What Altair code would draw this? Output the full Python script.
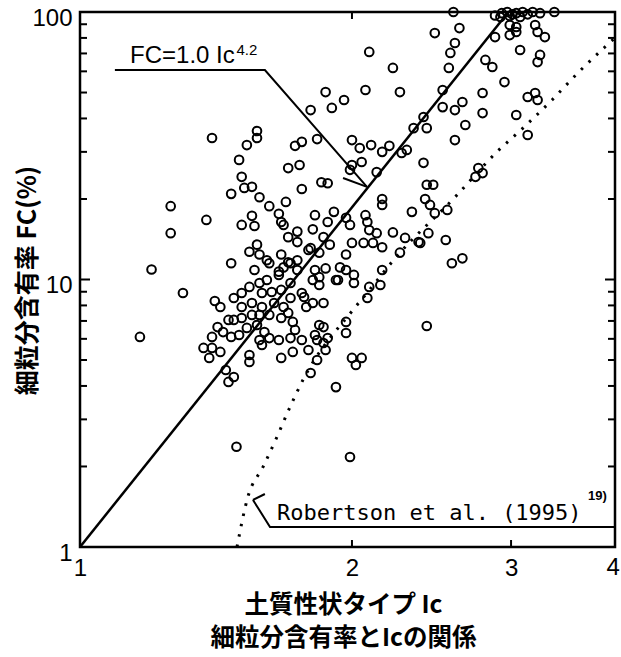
import altair as alt
import pandas as pd

# ---------------- data ----------------
ic_values = [
    2.59, 2.88, 2.93, 2.97, 3.01, 3.04, 3.09, 3.13, 3.17, 3.23, 3.35, 2.92, 3.07, 2.99,
    2.99, 3.04, 2.88, 2.99, 3.04, 3.19, 3.21, 3.27, 3.07, 3.23, 3.21, 2.81, 2.86, 2.95,
    2.79, 2.63, 2.47, 2.60, 2.57, 2.56, 2.09, 2.22, 1.87, 2.07, 2.26, 2.52, 3.13, 3.19,
    3.21, 1.80, 1.90, 1.96, 2.60, 2.65, 2.52,
    2.79, 3.04, 2.67, 2.60, 3.13, 2.40, 2.42, 2.34, 1.57, 1.57, 1.53, 1.40, 1.73, 1.76,
    1.83, 2.00, 2.04, 2.10, 2.16, 2.20, 2.27, 2.30, 1.50, 1.70, 1.75, 2.00, 2.05, 1.99,
    2.13, 2.40, 2.76, 2.79, 2.74, 1.51, 1.52, 1.55, 1.58, 1.47, 1.76, 1.85, 1.88, 2.42,
    2.46,
    2.16, 2.16, 2.41, 2.44, 2.47, 2.55, 2.33, 1.91, 1.97, 1.99, 2.07, 2.08, 2.09, 2.13,
    2.22, 2.29, 2.37, 2.38, 2.43, 2.54, 1.62, 1.69, 1.26, 1.38, 1.26, 1.55, 1.51, 1.56,
    1.66, 1.67, 1.68, 1.82, 1.81, 1.70, 1.74, 1.74, 1.57, 1.54, 1.58, 1.67, 1.79, 1.86,
    1.89, 1.80, 1.84, 1.88, 2.00, 2.06, 2.11, 2.16, 1.97, 2.26,
    2.58, 2.65, 2.16, 2.09, 2.15, 2.08, 2.01, 2.01, 1.97, 1.93, 1.87, 1.82, 1.84, 1.94,
    1.61, 1.70, 1.74, 1.47, 1.20, 1.66, 1.30, 1.41, 1.48, 1.51, 1.54, 1.58, 1.61, 1.66,
    1.59, 1.63, 1.67, 1.71, 1.68, 1.71, 1.74, 1.62, 1.56, 1.76, 1.77, 1.81, 1.84, 1.92,
    1.43, 1.51, 1.55, 1.59, 1.64, 1.68, 1.71, 1.70, 1.67, 1.62, 1.58, 1.55, 1.51, 1.48,
    1.46, 1.42, 1.44, 1.40, 1.47, 1.50, 1.53, 1.57, 1.60, 1.58, 1.62, 1.66, 1.59, 1.72,
    1.73, 1.71, 1.76, 1.79, 1.72, 1.67, 1.83, 1.86, 1.88, 1.84, 1.82, 1.83, 1.80, 1.92,
    1.78, 1.81, 1.86, 1.37, 1.40, 1.43, 1.39, 1.54, 1.54, 1.45, 1.48, 1.46, 1.97, 1.97,
    1.86, 1.87, 2.00, 2.05, 2.02, 2.42, 1.165, 1.49, 1.99,
]
fc_values = [
    100, 97, 99, 100, 98, 99, 100, 98, 100, 99, 100, 95.8, 95.8, 96.6,
    89.4, 87.9, 80.6, 82.0, 84.2, 89.4, 84.2, 80.6, 72.1, 69.1, 65.0, 66.2, 62.3, 54.7,
    49.8, 87.1, 83.4, 76.6, 70.3, 61.8, 70.9, 61.8, 50.2, 51.1, 50.2, 51.1, 48.1, 49.8,
    46.9, 43.0, 43.8, 46.9, 43.0, 46.1, 44.1,
    41.9, 41.2, 37.8, 33.2, 34.7, 40.5, 36.8, 36.8, 35.9, 33.8, 31.8, 33.8, 31.6, 32.7,
    33.5, 33.2, 31.0, 31.8, 30.0, 31.6, 29.7, 30.5, 28.0, 26.1, 26.8, 26.8, 27.5, 25.7,
    25.2, 27.3, 26.1, 25.0, 24.2, 24.2, 22.0, 22.2, 20.3, 20.9, 21.8, 23.1, 22.9, 22.6,
    22.6,
    20.0, 19.0, 20.0, 19.0, 17.7, 18.2, 17.9, 17.9, 17.0, 16.0, 17.4, 16.4, 15.3, 14.9,
    15.0, 14.3, 13.8, 13.7, 14.9, 14.05, 18.8, 19.5, 18.8, 16.7, 14.9, 17.3, 16.0, 15.85,
    17.6, 16.4, 16.0, 17.4, 15.4, 14.4, 15.1, 13.8, 13.5, 12.7, 12.4, 12.4, 12.9, 14.4,
    13.5, 13.1, 12.6, 16.4, 13.7, 13.7, 13.7, 13.2, 12.4, 12.6,
    11.5, 12.0, 10.85, 9.38, 9.54, 8.53, 10.4, 9.70, 10.85, 9.96, 11.0, 10.85, 10.2, 11.1,
    11.8, 11.6, 11.8, 11.5, 10.9, 10.7, 8.90, 8.31, 8.53, 8.90, 9.38, 9.70, 9.96, 10.4,
    8.90, 8.98, 9.14, 9.70, 11.1, 11.5, 10.85, 11.5, 10.85, 8.90, 8.60, 9.96, 9.54, 9.96,
    7.89, 7.89, 8.17, 7.89, 8.17, 7.89, 8.53, 7.50, 7.18, 7.37, 7.37, 7.37, 7.18, 7.06,
    7.06, 6.64, 6.36, 6.10, 6.10, 6.20, 6.59, 6.76, 6.36, 5.94, 6.04, 5.94, 5.69, 6.94,
    6.48, 6.04, 5.94, 5.45, 5.36, 5.09, 5.94, 5.79, 6.04, 6.76, 6.20, 5.00, 4.47, 3.96,
    7.89, 8.17, 8.17, 5.55, 5.55, 5.36, 5.09, 5.22, 4.92, 4.59, 4.32, 4.14, 6.94, 6.31,
    6.64, 5.45, 5.09, 5.09, 4.79, 6.70, 6.10, 2.37, 2.17,
]

# FC = 1.0 Ic^4.2 (straight line on log-log axes)
fit_ic = [1.0, 2.98]
fit_fc = [1.0, 100.0]

# Robertson et al. (1995) dotted curve
rob_ic = [1.492, 1.534, 1.594, 1.652, 1.708, 1.765, 2.005, 2.078, 2.232, 2.600,
          2.894, 3.092, 3.330, 3.557, 3.811, 3.909]
rob_fc = [1.0, 1.54, 1.99, 2.58, 3.34, 4.21, 7.69, 8.90, 12.0, 20.3,
          30.0, 36.8, 46.9, 59.2, 74.0, 80.0]

# annotation leader lines (data coordinates)
lead_group = ["a", "a", "a", "b", "b", "c", "c", "c", "d", "d"]
lead_ic = [1.093, 1.602, 2.078, 1.955, 2.078, 1.554, 1.623, 3.91, 1.602, 1.554]
lead_fc = [60.7, 60.7, 22.2, 23.96, 22.2, 1.50, 1.188, 1.188, 1.578, 1.50]

y_minor = [2, 3, 4, 5, 6, 7, 8, 9, 20, 30, 40, 50, 60, 70, 80, 90]
y_major = [10]
x_ticks = [2, 3]
x_labels = [1, 2, 3]
x_edge_label = 4
y_labels = [1, 10, 100]

# ---------------- chart ----------------
W, H = 535, 535
XMAX = 3.91
LATIN = "Liberation Sans"
CJK = "Noto Sans CJK JP"

xs = alt.Scale(type="log", domain=[1, XMAX], nice=False)
ys = alt.Scale(type="log", domain=[1, 100], nice=False)

AX = alt.Axis(
    values=x_labels, format="d", ticks=False, domain=False, grid=False,
    labelFont=LATIN, labelFontSize=24, labelColor="black", labelPadding=9,
    labelFlush=False, labelOverlap=False,
    title=["土質性状タイプ Ic", "細粒分含有率とIcの関係"],
    titleFont=CJK, titleFontSize=24.5, titleFontWeight="bold", titleColor="black",
    titleX=263, titleY=46, titleAlign="center", titleBaseline="top",
    titleLineHeight=33)
AY = alt.Axis(
    values=y_labels, format="d", ticks=False, domain=False, grid=False,
    labelFont=LATIN, labelFontSize=24, labelColor="black", labelPadding=8,
    labelOverlap=False, labelOffset=6,
    title="細粒分含有率 FC(%)", titleFont=CJK, titleFontSize=25,
    titleFontWeight="bold", titleColor="black", titleAngle=-90,
    titleX=-53, titleY=268, titleAlign="center", titleBaseline="middle")


def X(field):
    return alt.X(field, scale=xs, axis=AX)


def Y(field):
    return alt.Y(field, scale=ys, axis=AY)


pts = pd.DataFrame({"ic": ic_values, "fc": fc_values})
points = alt.Chart(pts).mark_point(
    shape="circle", filled=False, stroke="black", strokeWidth=2, size=75, opacity=1
).encode(x=X("ic:Q"), y=Y("fc:Q"))

fit = alt.Chart(pd.DataFrame({"ic": fit_ic, "fc": fit_fc})).mark_line(
    color="black", strokeWidth=2.5, clip=True
).encode(x=X("ic:Q"), y=Y("fc:Q"))

rob = alt.Chart(pd.DataFrame({"ic": rob_ic, "fc": rob_fc})).mark_line(
    color="black", strokeWidth=3, strokeDash=[2.5, 8], interpolate="monotone", clip=True
).encode(x=X("ic:Q"), y=Y("fc:Q"))

lead_df = pd.DataFrame({"g": lead_group, "ic": lead_ic, "fc": lead_fc,
                        "i": list(range(len(lead_ic)))})
leaders = alt.Chart(lead_df).mark_line(color="black", strokeWidth=2, clip=True).encode(
    x=X("ic:Q"), y=Y("fc:Q"), detail="g:N", order="i:Q")


def label(txt, ic, fc, font, size, weight="normal", align="left",
          baseline="alphabetic", dx=0, dy=0):
    return alt.Chart(pd.DataFrame({"ic": [ic], "fc": [fc], "t": [txt]})).mark_text(
        align=align, baseline=baseline, font=font, fontSize=size,
        fontWeight=weight, color="black", dx=dx, dy=dy
    ).encode(x=X("ic:Q"), y=Y("fc:Q"), text="t:N")


t1 = label("FC=1.0 Ic", 1.136, 64.5, LATIN, 24)
t1s = label("4.2", 1.49, 69.1, LATIN, 15)
t2 = label("Robertson et al. (1995)", 1.652, 1.262, "DejaVu Sans Mono", 22)
t2s = label("19)", 3.65, 1.50, LATIN, 13, "bold")
t4 = label(str(x_edge_label), float(x_edge_label), 1.0, LATIN, 24,
           align="right", baseline="top", dx=-4, dy=9)


def yticks(vals, x0, x1):
    return alt.Chart(pd.DataFrame({"fc": vals})).mark_rule(
        color="black", strokeWidth=2).encode(y=Y("fc:Q"), x=alt.value(x0), x2=alt.value(x1))


def xticks(vals, y0, y1):
    return alt.Chart(pd.DataFrame({"ic": vals})).mark_rule(
        color="black", strokeWidth=2).encode(x=X("ic:Q"), y=alt.value(y0), y2=alt.value(y1))


ticks = [
    yticks(y_minor, 0, 7), yticks(y_major, 0, 10),
    yticks(y_minor, W - 7, W), yticks(y_major, W - 10, W),
    xticks(x_ticks, H - 7, H), xticks(x_ticks, 0, 7),
]

chart = alt.layer(points, fit, rob, leaders, t1, t1s, t2, t2s, t4, *ticks).properties(
    width=W, height=H,
    padding={"left": 80, "top": 12, "right": 6, "bottom": 110},
    autosize=alt.AutoSizeParams(type="none"),
    background="white",
).configure_view(stroke="black", strokeWidth=2.5)

chart.save("out.html", embed_options={"renderer": "svg", "actions": False})
